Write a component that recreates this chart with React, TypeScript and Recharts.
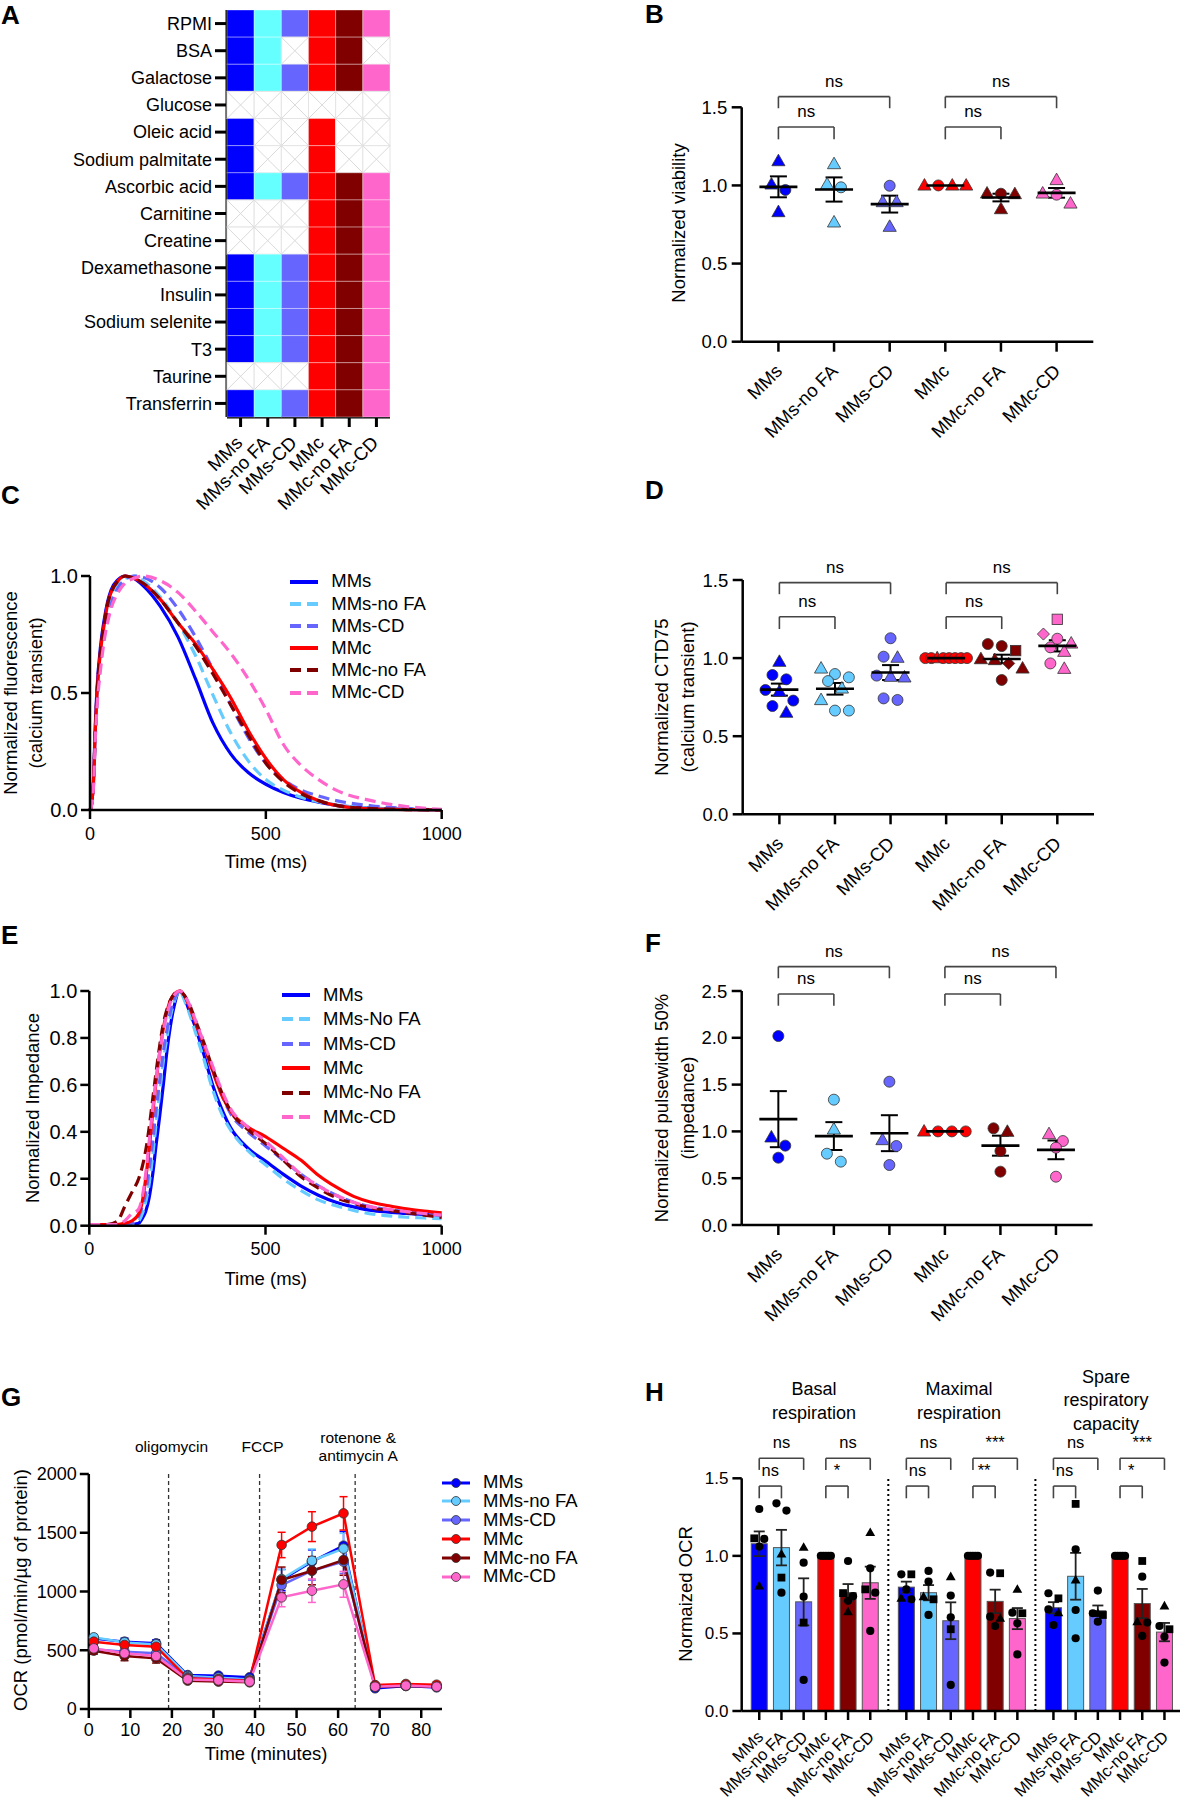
import React from 'react';
import {
  ScatterChart, Scatter, LineChart, Line, ComposedChart, Bar, Cell,
  XAxis, YAxis, ErrorBar, ReferenceLine, Legend,
} from 'recharts';

const FONT = '"Liberation Sans", Arial, Helvetica, sans-serif';
const AX = { stroke: '#000', strokeWidth: 2.5 };

const CONDITIONS = ['MMs', 'MMs-no FA', 'MMs-CD', 'MMc', 'MMc-no FA', 'MMc-CD'];
const COLORS = ['#0000ff', '#66ccff', '#6666ff', '#ff0000', '#800000', '#ff66cc'];
const HEAT_COLORS = ['#0000ff', '#66ffff', '#6666ff', '#ff0000', '#800000', '#ff66cc'];

// ---- A: medium composition (1 = included)
const COMPONENTS = ['RPMI', 'BSA', 'Galactose', 'Glucose', 'Oleic acid', 'Sodium palmitate', 'Ascorbic acid',
  'Carnitine', 'Creatine', 'Dexamethasone', 'Insulin', 'Sodium selenite', 'T3', 'Taurine', 'Transferrin'];
const MEDIA = [
  [1, 1, 1, 1, 1, 1],
  [1, 1, 0, 1, 1, 0],
  [1, 1, 1, 1, 1, 1],
  [0, 0, 0, 0, 0, 0],
  [1, 0, 0, 1, 0, 0],
  [1, 0, 0, 1, 0, 0],
  [1, 1, 1, 1, 1, 1],
  [0, 0, 0, 1, 1, 1],
  [0, 0, 0, 1, 1, 1],
  [1, 1, 1, 1, 1, 1],
  [1, 1, 1, 1, 1, 1],
  [1, 1, 1, 1, 1, 1],
  [1, 1, 1, 1, 1, 1],
  [0, 0, 0, 1, 1, 1],
  [1, 1, 1, 1, 1, 1],
];

// ---- B: viability (c circle, t triangle, s square, d diamond)
const VIABILITY = [
  [1.156, 1.007, 0.971, 0.83],
  [1.137, 1.007, 0.988, 0.764],
  [0.998, 0.894, 0.894, 0.736],
  [1, 1, 1, 1],
  [0.949, 0.945, 0.947, 0.849],
  [1.035, 0.949, 0.941, 0.885],
];
const VIABILITY_MARKS = [
  ['t', 't', 'c', 't'], ['t', 't', 'c', 't'], ['c', 't', 't', 't'],
  ['t', 'c', 't', 't'], ['t', 't', 'c', 't'], ['t', 't', 'c', 't'],
];

// ---- D: CTD75
const CTD75 = [
  [0.977, 0.892, 0.864, 0.796, 0.785, 0.728, 0.693, 0.651],
  [0.934, 0.898, 0.877, 0.853, 0.806, 0.732, 0.664, 0.664],
  [1.127, 1.009, 1.003, 0.888, 0.881, 0.877, 0.742, 0.732],
  [1, 1, 1, 1, 1, 1, 1, 1],
  [1.09, 1.077, 1.048, 0.994, 0.988, 0.966, 0.934, 0.86],
  [1.248, 1.154, 1.124, 1.094, 1.069, 1.041, 0.966, 0.932],
];
const CTD75_MARKS = [
  ['t', 'c', 'c', 'c', 't', 'c', 'c', 't'],
  ['t', 'c', 'c', 'c', 't', 't', 'c', 'c'],
  ['c', 'c', 't', 'c', 't', 't', 'c', 'c'],
  ['c', 'c', 't', 'c', 'c', 'c', 'c', 'c'],
  ['c', 'c', 's', 't', 't', 'd', 't', 'c'],
  ['s', 'd', 'c', 't', 'c', 't', 'c', 't'],
];

// ---- F: pulsewidth 50%
const PULSEWIDTH = [
  [2.019, 0.937, 0.848, 0.719],
  [1.339, 1.022, 0.762, 0.677],
  [1.531, 0.908, 0.844, 0.641],
  [1, 1, 1, 1],
  [0.997, 1.033, 0.79, 0.57],
  [0.972, 0.897, 0.826, 0.516],
];
const PULSEWIDTH_MARKS = [
  ['c', 't', 'c', 'c'], ['c', 't', 'c', 'c'], ['c', 't', 'c', 'c'],
  ['t', 'c', 'c', 'c'], ['t', 'c', 'c', 'c'], ['t', 'c', 'c', 'c'],
];
const COMPARISONS = [[0, 2], [0, 1], [3, 5], [3, 4]];

// ---- C: calcium transients
const CA_TIME = [0, 5, 10, 15, 20, 30, 40, 50, 60, 80, 100, 125, 150, 200, 250, 300, 350, 400, 450, 500, 550, 600, 650, 700, 800, 900, 1000];
const CA_MMS = [0, 0.03, 0.13, 0.36, 0.52, 0.7, 0.81, 0.89, 0.94, 0.985, 1, 0.99, 0.96, 0.87, 0.74, 0.56, 0.37, 0.24, 0.16, 0.11, 0.075, 0.05, 0.033, 0.02, 0.008, 0.003, 0];
const CA_MMS_NOFA = [0, 0.03, 0.11, 0.32, 0.47, 0.65, 0.76, 0.84, 0.9, 0.96, 0.99, 1, 0.98, 0.91, 0.8, 0.66, 0.49, 0.33, 0.21, 0.13, 0.085, 0.055, 0.035, 0.022, 0.008, 0.003, 0];
const CA_MMS_CD = [0, 0.03, 0.11, 0.31, 0.46, 0.63, 0.74, 0.82, 0.88, 0.95, 0.985, 1, 0.995, 0.95, 0.86, 0.74, 0.6, 0.45, 0.31, 0.2, 0.13, 0.085, 0.06, 0.04, 0.018, 0.007, 0];
const CA_MMC = [0, 0.03, 0.12, 0.34, 0.5, 0.68, 0.79, 0.88, 0.93, 0.98, 1, 0.99, 0.97, 0.9, 0.8, 0.71, 0.6, 0.48, 0.34, 0.22, 0.13, 0.075, 0.04, 0.02, 0.005, 0.002, 0];
const CA_MMC_NOFA = [0, 0.03, 0.12, 0.34, 0.5, 0.68, 0.79, 0.88, 0.93, 0.98, 1, 0.99, 0.97, 0.9, 0.8, 0.7, 0.58, 0.45, 0.32, 0.2, 0.12, 0.07, 0.04, 0.02, 0.006, 0.002, 0];
const CA_MMC_CD = [0, 0.02, 0.1, 0.3, 0.44, 0.6, 0.72, 0.8, 0.86, 0.93, 0.97, 0.99, 1, 0.98, 0.93, 0.85, 0.76, 0.67, 0.56, 0.43, 0.28, 0.19, 0.13, 0.085, 0.04, 0.015, 0.003];

// ---- E: impedance
const IMP_TIME = [0, 50, 80, 100, 120, 140, 150, 160, 170, 180, 190, 200, 210, 220, 230, 240, 257, 270, 285, 300, 325, 350, 375, 400, 450, 500, 550, 600, 650, 700, 750, 800, 850, 900, 950, 1000];
const IMP_MMS = [0.005, 0.005, 0.005, 0.005, 0.005, 0.01, 0.03, 0.06, 0.12, 0.22, 0.35, 0.47, 0.6, 0.74, 0.85, 0.93, 1, 0.97, 0.91, 0.85, 0.73, 0.6, 0.5, 0.42, 0.33, 0.275, 0.22, 0.17, 0.13, 0.1, 0.08, 0.065, 0.058, 0.052, 0.048, 0.045];
const IMP_MMS_NOFA = [0.005, 0.005, 0.005, 0.005, 0.008, 0.02, 0.05, 0.1, 0.18, 0.3, 0.44, 0.57, 0.7, 0.8, 0.89, 0.95, 1, 0.96, 0.9, 0.83, 0.71, 0.58, 0.48, 0.41, 0.32, 0.26, 0.2, 0.15, 0.11, 0.085, 0.065, 0.05, 0.042, 0.036, 0.033, 0.03];
const IMP_MMS_CD = [0.005, 0.005, 0.005, 0.005, 0.01, 0.04, 0.08, 0.14, 0.24, 0.36, 0.5, 0.62, 0.74, 0.83, 0.91, 0.96, 1, 0.98, 0.93, 0.87, 0.77, 0.66, 0.56, 0.48, 0.4, 0.34, 0.28, 0.22, 0.17, 0.13, 0.1, 0.08, 0.068, 0.06, 0.053, 0.047];
const IMP_MMC = [0.005, 0.005, 0.005, 0.01, 0.02, 0.05, 0.1, 0.2, 0.33, 0.48, 0.62, 0.74, 0.84, 0.91, 0.96, 0.985, 1, 0.98, 0.93, 0.87, 0.77, 0.66, 0.56, 0.49, 0.42, 0.38, 0.33, 0.28, 0.215, 0.165, 0.125, 0.1, 0.085, 0.072, 0.062, 0.055];
const IMP_MMC_NOFA = [0.005, 0.005, 0.02, 0.08, 0.14, 0.2, 0.25, 0.32, 0.42, 0.54, 0.66, 0.77, 0.86, 0.92, 0.96, 0.985, 1, 0.98, 0.94, 0.88, 0.78, 0.67, 0.57, 0.49, 0.41, 0.35, 0.28, 0.21, 0.16, 0.12, 0.095, 0.075, 0.065, 0.055, 0.045, 0.035];
const IMP_MMC_CD = [0.005, 0.005, 0.005, 0.02, 0.05, 0.07, 0.12, 0.22, 0.36, 0.5, 0.63, 0.74, 0.83, 0.9, 0.95, 0.98, 1, 0.98, 0.94, 0.88, 0.78, 0.68, 0.58, 0.5, 0.42, 0.36, 0.29, 0.22, 0.17, 0.13, 0.1, 0.08, 0.07, 0.06, 0.052, 0.045];

// ---- G: Seahorse OCR
const OCR_TIME = [1.2, 8.6, 16.2, 23.8, 31.2, 38.7, 46.4, 53.7, 61.3, 68.9, 76.3, 83.7];
const OCR_MMS = [601, 573, 559, 289, 284, 270, 1098, 1254, 1390, 176, 196, 184];
const OCR_MMS_NOFA = [610, 567, 550, 281, 267, 252, 1106, 1262, 1365, 199, 204, 196];
const OCR_MMS_CD = [508, 488, 474, 270, 255, 244, 1055, 1177, 1254, 196, 204, 196];
const OCR_MMC = [573, 545, 530, 261, 252, 241, 1396, 1552, 1665, 204, 213, 207];
const OCR_MMC_NOFA = [496, 451, 431, 241, 233, 227, 1098, 1177, 1268, 190, 196, 190];
const OCR_MMC_CD = [516, 474, 451, 252, 244, 233, 950, 1007, 1061, 190, 199, 190];
const OCR_SEM_MMS = [25, 30, 30, 20, 15, 15, 90, 100, 120, 15, 10, 10];
const OCR_SEM_MMS_NOFA = [25, 30, 30, 20, 15, 15, 80, 100, 130, 15, 10, 10];
const OCR_SEM_MMS_CD = [25, 30, 30, 15, 15, 15, 60, 80, 100, 15, 10, 10];
const OCR_SEM_MMC = [30, 30, 30, 15, 15, 15, 108, 127, 142, 15, 10, 10];
const OCR_SEM_MMC_NOFA = [30, 40, 40, 15, 15, 15, 110, 120, 130, 15, 10, 10];
const OCR_SEM_MMC_CD = [30, 30, 30, 15, 15, 15, 80, 100, 110, 15, 10, 10];
const INJECTION_TIMES = [19.2, 41.1, 64.1];
const INJECTION_NAMES = [['oligomycin'], ['FCCP'], ['rotenone &', 'antimycin A']];

// ---- H: normalized OCR
const BASAL = [
  [1.302, 1.113, 1.109, 1.06, 0.806],
  [1.339, 1.292, 1.012, 0.86, 0.763],
  [1.055, 0.956, 0.737, 0.57, 0.2],
  [1, 1, 1, 1, 1],
  [0.967, 0.76, 0.74, 0.71, 0.64],
  [1.15, 0.92, 0.784, 0.763, 0.516],
];
const MAXIMAL = [
  [0.881, 0.881, 0.784, 0.726, 0.72],
  [0.903, 0.834, 0.737, 0.72, 0.619],
  [0.866, 0.744, 0.604, 0.527, 0.168],
  [1, 1, 1, 1, 1],
  [0.892, 0.888, 0.608, 0.597, 0.548],
  [0.784, 0.634, 0.63, 0.565, 0.365],
];
const SPARE = [
  [0.759, 0.726, 0.655, 0.634, 0.554],
  [1.335, 1.042, 0.845, 0.651, 0.469],
  [0.776, 0.63, 0.63, 0.619, 0.576],
  [1, 1, 1, 1, 1],
  [0.967, 0.866, 0.576, 0.57, 0.484],
  [0.677, 0.548, 0.527, 0.479, 0.312],
];
const BASAL_MARKS = [['c', 's', 'c', 'c', 't'], ['c', 'c', 't', 's', 'c'], ['t', 'c', 'c', 's', 'c'], ['c', 'c', 'c', 'c', 'c'], ['c', 's', 'c', 'c', 't'], ['t', 'c', 's', 'c', 'c']];
const MAXIMAL_MARKS = [['c', 's', 'c', 't', 'c'], ['c', 'c', 't', 's', 'c'], ['t', 'c', 'c', 's', 'c'], ['c', 'c', 'c', 'c', 'c'], ['c', 's', 'c', 't', 'c'], ['t', 'c', 's', 'c', 'c']];
const SPARE_MARKS = [['c', 's', 'c', 't', 'c'], ['s', 'c', 't', 'c', 'c'], ['c', 'c', 't', 's', 'c'], ['c', 'c', 'c', 'c', 'c'], ['s', 'c', 't', 'c', 'c'], ['t', 'c', 's', 'c', 'c']];
const OCR_SIG_OUTER = [['ns', 'ns'], ['ns', '***'], ['ns', '***']];
const OCR_SIG_INNER = [['ns', '*'], ['ns', '**'], ['ns', '*']];

// ---------- helpers
const mean = (a: number[]) => a.reduce((s, v) => s + v, 0) / a.length;
const sem = (a: number[]) => {
  const m = mean(a);
  return Math.sqrt(a.reduce((s, v) => s + (v - m) ** 2, 0) / (a.length - 1)) / Math.sqrt(a.length);
};

// put points with close values side by side (scatter dot plot)
function spread(values: number[], minGap: number, step: number, maxSpan: number) {
  const order = values.map((_, i) => i).sort((a, b) => values[b] - values[a]);
  const bins: number[][] = [];
  order.forEach((i) => {
    const last = bins[bins.length - 1];
    if (last && values[last[0]] - values[i] < minGap) last.push(i);
    else bins.push([i]);
  });
  const offs = new Array(values.length).fill(0);
  bins.forEach((bin) => {
    const n = bin.length;
    if (n < 2) return;
    const s = Math.min(step, maxSpan / (n - 1));
    bin.forEach((idx, k) => { offs[idx] = (k - (n - 1) / 2) * s; });
  });
  return offs;
}

function Marker({ cx, cy, kind, r, fill, stroke, sw }: any) {
  if (cx == null || cy == null) return null;
  const c = { fill, stroke, strokeWidth: sw };
  if (kind === 't') return <polygon points={`${cx},${cy - r * 1.25} ${cx - r * 1.2},${cy + r * 0.85} ${cx + r * 1.2},${cy + r * 0.85}`} {...c} />;
  if (kind === 's') return <rect x={cx - r * 0.95} y={cy - r * 0.95} width={r * 1.9} height={r * 1.9} {...c} />;
  if (kind === 'd') return <polygon points={`${cx},${cy - r * 1.1} ${cx + r * 1.1},${cy} ${cx},${cy + r * 1.1} ${cx - r * 1.1},${cy}`} {...c} />;
  return <circle cx={cx} cy={cy} r={r} {...c} />;
}

const AngledTick = (props: any) => {
  const { x, y, index, labels, fs, ddx, ddy } = props;
  const ax = x + ddx;
  const ay = y + ddy;
  return (
    <text x={ax} y={ay} transform={`rotate(-45 ${ax} ${ay})`} textAnchor="end" fontSize={fs} fontFamily={FONT} fill="#000">
      {labels[index]}
    </text>
  );
};

function bracket(key: string, x1: number, x2: number, y: number, leg: number, text: string, fs: number) {
  const line = { stroke: '#444', strokeWidth: 1.6, ifOverflow: 'visible' as const };
  return [
    <ReferenceLine key={key + 'h'} segment={[{ x: x1, y }, { x: x2, y }]} {...line}
      label={{ value: text, position: 'top', offset: 10, fontSize: fs, fill: '#000', fontFamily: FONT }} />,
    <ReferenceLine key={key + 'a'} segment={[{ x: x1, y }, { x: x1, y: leg }]} {...line} />,
    <ReferenceLine key={key + 'b'} segment={[{ x: x2, y }, { x: x2, y: leg }]} {...line} />,
  ];
}

function Title({ x, y, text, size = 18.5, rotate = false, lh = 24, weight = 400 }: any) {
  return (
    <div style={{
      position: 'absolute', left: x, top: y, whiteSpace: 'pre', textAlign: 'center', fontSize: size, lineHeight: `${lh}px`,
      fontWeight: weight, fontFamily: FONT, color: '#000',
      transform: `translate(-50%, -50%)${rotate ? ' rotate(-90deg)' : ''}`,
    }}>{text}</div>
  );
}

function Letter({ x, y, text }: any) {
  return (
    <div style={{ position: 'absolute', left: x, top: Math.max(0, y - 3.4), fontSize: 26, lineHeight: '27px', fontWeight: 700, fontFamily: FONT }}>
      {text}
    </div>
  );
}

// legend rows in the series' own order
function SeriesLegend({ series, rowH, fs, lineW, gap, dot }: any) {
  return (
    <div style={{ fontFamily: FONT, color: '#000' }}>
      {series.map((s: any) => (
        <div key={s.name} style={{ display: 'flex', alignItems: 'center', height: rowH, whiteSpace: 'nowrap' }}>
          <svg width={lineW} height={12} style={{ flex: 'none' }}>
            <line x1={0} x2={lineW} y1={6} y2={6} stroke={s.color} strokeWidth={dot ? 3 : 4} strokeDasharray={s.dash} />
            {dot && <circle cx={lineW / 2} cy={6} r={4.5} fill={s.color} stroke="#333" strokeWidth={0.8} />}
          </svg>
          <span style={{ marginLeft: gap, fontSize: fs, lineHeight: 1 }}>{s.name}</span>
        </div>
      ))}
    </div>
  );
}

// ---------- A
const A_CELL_W = 163 / 6;
const A_CELL_H = 407 / 15;
const HeatCell = (props: any) => {
  const { cx, cy, payload } = props;
  if (cx == null || !payload) return null;
  const x = cx - A_CELL_W / 2;
  const y = cy - A_CELL_H / 2;
  if (payload.on) {
    return <rect x={x} y={y} width={A_CELL_W} height={A_CELL_H} fill={HEAT_COLORS[payload.col]} stroke="rgba(255,255,255,0.35)" strokeWidth={1} />;
  }
  return (
    <g>
      <rect x={x} y={y} width={A_CELL_W} height={A_CELL_H} fill="#fff" stroke="#e4e4e4" strokeWidth={1} />
      <line x1={x} y1={y} x2={x + A_CELL_W} y2={y + A_CELL_H} stroke="#dadada" strokeWidth={1} />
      <line x1={x + A_CELL_W} y1={y} x2={x} y2={y + A_CELL_H} stroke="#dadada" strokeWidth={1} />
    </g>
  );
};

function PanelA() {
  const cells = COMPONENTS.flatMap((_, row) => CONDITIONS.map((__, col) => ({ col, row, on: MEDIA[row][col] === 1 })));
  const border = { stroke: '#000', strokeWidth: 3 };
  return (
    <div style={{ position: 'absolute', left: 0, top: 0 }}>
      <ScatterChart width={400} height={540} margin={{ top: 10, right: 10, bottom: 0, left: 0 }}>
        <Scatter data={cells} isAnimationActive={false} shape={(p: any) => <HeatCell {...p} />} />
        <XAxis type="number" dataKey="col" domain={[-0.5, 5.5]} ticks={[0, 1, 2, 3, 4, 5]} interval={0} height={123}
          tickSize={10} tickLine={border} axisLine={border}
          tick={<AngledTick labels={CONDITIONS} fs={18.5} ddx={3} ddy={15} />} />
        <YAxis type="number" dataKey="row" reversed domain={[-0.5, 14.5]} ticks={COMPONENTS.map((_, i) => i)} interval={0}
          width={227} tickSize={12} tickMargin={3} tickLine={border} axisLine={border}
          tickFormatter={(v: number) => COMPONENTS[v]} tick={{ fontSize: 18, fill: '#000', fontFamily: FONT }} />
        <XAxis xAxisId="top" orientation="top" type="number" domain={[-0.5, 5.5]} height={0} tick={false} tickLine={false} axisLine={border} />
        <YAxis yAxisId="right" orientation="right" type="number" domain={[-0.5, 14.5]} width={0} tick={false} tickLine={false} axisLine={border} />
      </ScatterChart>
    </div>
  );
}

// ---------- B, D, F
function DotPlot({ left, top, width, height, mt, mr, yw, xh, values, marks, yMax, yTicks, minGap, br }: any) {
  const pts = values.flatMap((vals: number[], g: number) => {
    const offs = spread(vals, minGap, 0.25, 0.75);
    return vals.map((v, i) => ({ x: g + offs[i], y: v, g, m: marks[g][i] }));
  });
  const stats = values.map((vals: number[], g: number) => ({ x: g, y: mean(vals), sem: sem(vals) }));
  return (
    <div style={{ position: 'absolute', left, top }}>
      <ScatterChart width={width} height={height} margin={{ top: mt, right: mr, bottom: 0, left: 0 }}>
        <XAxis type="number" dataKey="x" domain={[-0.66, 5.66]} ticks={[0, 1, 2, 3, 4, 5]} interval={0} height={xh}
          tickSize={10} tickLine={AX} axisLine={AX}
          tick={<AngledTick labels={CONDITIONS} fs={18.5} ddx={5} ddy={18.5} />} />
        <YAxis type="number" dataKey="y" domain={[0, yMax]} ticks={yTicks} interval={0} width={yw}
          tickSize={10} tickMargin={4.5} tickLine={AX} axisLine={AX}
          tickFormatter={(v: number) => v.toFixed(1)} tick={{ fontSize: 18.5, fill: '#000', fontFamily: FONT }} />
        <Scatter data={pts} isAnimationActive={false}
          shape={(p: any) => <Marker cx={p.cx} cy={p.cy} kind={p.payload?.m} r={5.5} fill={COLORS[p.payload?.g ?? 0]} stroke="#333" sw={0.8} />} />
        <Scatter data={stats} isAnimationActive={false}
          shape={(p: any) => <line x1={p.cx - 19} x2={p.cx + 19} y1={p.cy} y2={p.cy} stroke="#000" strokeWidth={2.6} />}>
          <ErrorBar dataKey="sem" direction="y" width={8.5} stroke="#000" strokeWidth={2} />
        </Scatter>
        {COMPARISONS.map(([a, b], i) => {
          const outer = b - a === 2;
          return bracket(`br${i}`, a, b, outer ? br[0] : br[2], outer ? br[1] : br[3], 'ns', 17);
        })}
      </ScatterChart>
    </div>
  );
}

// ---------- C, E
const CA_SERIES = [
  { name: 'MMs', values: CA_MMS, color: COLORS[0] },
  { name: 'MMs-no FA', values: CA_MMS_NOFA, color: COLORS[1], dash: '11 6' },
  { name: 'MMs-CD', values: CA_MMS_CD, color: COLORS[2], dash: '11 6' },
  { name: 'MMc', values: CA_MMC, color: COLORS[3] },
  { name: 'MMc-no FA', values: CA_MMC_NOFA, color: COLORS[4], dash: '11 6' },
  { name: 'MMc-CD', values: CA_MMC_CD, color: COLORS[5], dash: '11 6' },
];
const IMP_SERIES = [
  { name: 'MMs', values: IMP_MMS, color: COLORS[0] },
  { name: 'MMs-No FA', values: IMP_MMS_NOFA, color: COLORS[1], dash: '11 6' },
  { name: 'MMs-CD', values: IMP_MMS_CD, color: COLORS[2], dash: '11 6' },
  { name: 'MMc', values: IMP_MMC, color: COLORS[3] },
  { name: 'MMc-No FA', values: IMP_MMC_NOFA, color: COLORS[4], dash: '11 6' },
  { name: 'MMc-CD', values: IMP_MMC_CD, color: COLORS[5], dash: '11 6' },
];

function CurvePanel({ top, time, series, yTicks, yw, mt, xh, height, legendPos, rowH }: any) {
  const rows = time.map((t: number, i: number) => {
    const r: any = { t };
    series.forEach((s: any) => { r[s.name] = s.values[i]; });
    return r;
  });
  return (
    <div style={{ position: 'absolute', left: 0, top }}>
      <LineChart width={470} height={height} data={rows} margin={{ top: mt, right: 28.3, bottom: 0, left: 0 }}>
        <XAxis type="number" dataKey="t" domain={[0, 1000]} ticks={[0, 500, 1000]} interval={0} height={xh}
          tickSize={9} tickMargin={8} tickLine={AX} axisLine={AX} tick={{ fontSize: 18, fill: '#000', fontFamily: FONT }} />
        <YAxis type="number" domain={[0, 1]} ticks={yTicks} interval={0} width={yw} tickSize={9} tickMargin={3}
          tickLine={AX} axisLine={AX} tickFormatter={(v: number) => v.toFixed(1)} tick={{ fontSize: 20, fill: '#000', fontFamily: FONT }} />
        {series.map((s: any) => (
          <Line key={s.name} type="monotone" dataKey={s.name} name={s.name} stroke={s.color} strokeWidth={3.2}
            strokeDasharray={s.dash} dot={false} isAnimationActive={false} />
        ))}
        <Legend layout="vertical" align="center" verticalAlign="middle"
          wrapperStyle={{ left: legendPos[0], top: legendPos[1], width: 'auto' }}
          content={() => <SeriesLegend series={series} rowH={rowH} fs={18.5} lineW={28.3} gap={13} />} />
      </LineChart>
    </div>
  );
}

// ---------- G
const OCR_SERIES = [
  { name: 'MMs', values: OCR_MMS, err: OCR_SEM_MMS, color: COLORS[0] },
  { name: 'MMs-no FA', values: OCR_MMS_NOFA, err: OCR_SEM_MMS_NOFA, color: COLORS[1] },
  { name: 'MMs-CD', values: OCR_MMS_CD, err: OCR_SEM_MMS_CD, color: COLORS[2] },
  { name: 'MMc', values: OCR_MMC, err: OCR_SEM_MMC, color: COLORS[3] },
  { name: 'MMc-no FA', values: OCR_MMC_NOFA, err: OCR_SEM_MMC_NOFA, color: COLORS[4] },
  { name: 'MMc-CD', values: OCR_MMC_CD, err: OCR_SEM_MMC_CD, color: COLORS[5] },
];

const InjectionLabel = ({ viewBox, lines }: any) => {
  if (!viewBox) return null;
  const x = viewBox.x + 3;
  const y0 = viewBox.y - 22.3 - (lines.length - 1) * 8.7;
  return (
    <text x={x} y={y0} textAnchor="middle" fontSize={15.5} fontFamily={FONT} fill="#000">
      {lines.map((l: string, i: number) => <tspan key={i} x={x} dy={i === 0 ? 0 : 18}>{l}</tspan>)}
    </text>
  );
};

function PanelG() {
  const rows = OCR_TIME.map((t, i) => {
    const r: any = { t };
    OCR_SERIES.forEach((s) => { r[s.name] = s.values[i]; r[s.name + '_e'] = s.err[i]; });
    return r;
  });
  return (
    <div style={{ position: 'absolute', left: 0, top: 1380 }}>
      <LineChart width={600} height={389} data={rows} margin={{ top: 94, right: 158, bottom: 0, left: 0 }}>
        <XAxis type="number" dataKey="t" domain={[0, 85]} ticks={[0, 10, 20, 30, 40, 50, 60, 70, 80]} interval={0} height={60}
          tickSize={9} tickMargin={5} tickLine={AX} axisLine={AX} tick={{ fontSize: 18, fill: '#000', fontFamily: FONT }} />
        <YAxis type="number" domain={[0, 2000]} ticks={[0, 500, 1000, 1500, 2000]} interval={0} width={88.8} tickSize={9}
          tickMargin={3} tickLine={AX} axisLine={AX} tick={{ fontSize: 18, fill: '#000', fontFamily: FONT }} />
        {INJECTION_TIMES.map((t, i) => (
          <ReferenceLine key={t} x={t} stroke="#333" strokeWidth={1.3} strokeDasharray="4 3"
            label={(p: any) => <InjectionLabel viewBox={p.viewBox} lines={INJECTION_NAMES[i]} />} />
        ))}
        {OCR_SERIES.map((s) => (
          <Line key={s.name} type="linear" dataKey={s.name} name={s.name} stroke={s.color} strokeWidth={2.5}
            dot={{ r: 4.8, fill: s.color, stroke: '#333', strokeWidth: 0.8 }} isAnimationActive={false}>
            <ErrorBar dataKey={s.name + '_e'} direction="y" width={4} stroke={s.color} strokeWidth={1.5} />
          </Line>
        ))}
        <Legend layout="vertical" align="center" verticalAlign="middle"
          wrapperStyle={{ left: 442, top: 93.3, width: 'auto' }}
          content={() => <SeriesLegend series={OCR_SERIES} rowH={18.8} fs={18.5} lineW={28} gap={13} dot />} />
      </LineChart>
    </div>
  );
}

// ---------- H
const H_STRIDE = 6.625;
const H_BAR_W = 16;
const OcrBar = (p: any) => {
  if (p.x == null || p.height == null) return null;
  const cx = p.x + p.width / 2;
  const h = Math.abs(p.height);
  const y = p.height >= 0 ? p.y : p.y + p.height;
  return <rect x={cx - H_BAR_W / 2} y={y} width={H_BAR_W} height={h} fill={COLORS[p.payload?.ci ?? 0]} stroke="#555" strokeWidth={1} />;
};

function PanelH() {
  const sets = [BASAL, MAXIMAL, SPARE];
  const markSets = [BASAL_MARKS, MAXIMAL_MARKS, SPARE_MARKS];
  const bars = sets.flatMap((set, gi) => set.map((vals, ci) => ({ x: gi * H_STRIDE + ci, mean: mean(vals), sem: sem(vals), ci })));
  const pts = sets.flatMap((set, gi) => set.flatMap((vals, ci) => {
    const offs = spread(vals, 0.05, 0.51, 0.45);
    return vals.map((v, i) => ({ x: gi * H_STRIDE + ci + offs[i], y: v, m: markSets[gi][ci][i] }));
  }));
  return (
    <div style={{ position: 'absolute', left: 643, top: 1350 }}>
      <ComposedChart width={539} height={450} data={bars} margin={{ top: 128.3, right: 2, bottom: 0, left: 0 }}>
        <XAxis type="number" dataKey="x" domain={[-0.79, 18.95]} ticks={bars.map((b) => b.x)} interval={0} height={89}
          tickSize={9} tickLine={AX} axisLine={AX}
          tick={<AngledTick labels={bars.map((b) => CONDITIONS[b.ci])} fs={16.5} ddx={5} ddy={16} />} />
        <YAxis type="number" domain={[0, 1.5]} ticks={[0, 0.5, 1, 1.5]} interval={0} width={98.7} tickSize={9.3}
          tickMargin={4} tickLine={AX} axisLine={AX} tickFormatter={(v: number) => v.toFixed(1)}
          tick={{ fontSize: 17, fill: '#000', fontFamily: FONT }} />
        <Bar dataKey="mean" isAnimationActive={false} shape={(p: any) => <OcrBar {...p} />}>
          {bars.map((b, i) => <Cell key={i} fill={COLORS[b.ci]} />)}
          <ErrorBar dataKey="sem" direction="y" width={5.5} stroke="#222" strokeWidth={1.8} />
        </Bar>
        <Scatter data={pts} dataKey="y" isAnimationActive={false}
          shape={(p: any) => <Marker cx={p.cx} cy={p.cy} kind={p.payload?.m} r={4.1} fill="#000" stroke="none" sw={0} />} />
        {[0, 1].map((k) => (
          <ReferenceLine key={'sep' + k} x={k * H_STRIDE + 5 + (H_STRIDE - 5) / 2} stroke="#000" strokeWidth={2} strokeDasharray="2 3" />
        ))}
        {sets.map((_, gi) => {
          const b = gi * H_STRIDE;
          return [
            bracket(`o${gi}a`, b, b + 2, 1.629, 1.554, OCR_SIG_OUTER[gi][0], 16.5),
            bracket(`i${gi}a`, b, b + 1, 1.45, 1.371, OCR_SIG_INNER[gi][0], 16.5),
            bracket(`o${gi}b`, b + 3, b + 5, 1.629, 1.554, OCR_SIG_OUTER[gi][1], 16.5),
            bracket(`i${gi}b`, b + 3, b + 4, 1.45, 1.371, OCR_SIG_INNER[gi][1], 16.5),
          ];
        })}
      </ComposedChart>
    </div>
  );
}

export default function App() {
  return (
    <div style={{ position: 'absolute', left: 0, top: 0, width: 1182, height: 1800, background: '#fff', fontFamily: FONT, overflow: 'hidden' }}>
      <PanelA />
      <DotPlot left={643} top={0} width={539} height={452} mt={107.3} mr={88.7} yw={98.7} xh={110.3}
        values={VIABILITY} marks={VIABILITY_MARKS} yMax={1.5} yTicks={[0, 0.5, 1, 1.5]} minGap={0.07}
        br={[1.568, 1.494, 1.374, 1.295]} />
      <DotPlot left={643} top={470} width={539} height={452} mt={110} mr={88} yw={99.7} xh={107.7}
        values={CTD75} marks={CTD75_MARKS} yMax={1.5} yTicks={[0, 0.5, 1, 1.5]} minGap={0.07}
        br={[1.483, 1.409, 1.265, 1.186]} />
      <DotPlot left={643} top={900} width={539} height={440} mt={91} mr={89.4} yw={98.7} xh={115}
        values={PULSEWIDTH} marks={PULSEWIDTH_MARKS} yMax={2.5} yTicks={[0, 0.5, 1, 1.5, 2, 2.5]} minGap={0.12}
        br={[2.76, 2.636, 2.468, 2.343]} />
      <CurvePanel top={480} time={CA_TIME} series={CA_SERIES} yTicks={[0, 0.5, 1]} yw={90} mt={96} xh={50} height={380}
        legendPos={[290, 90.6]} rowH={22.2} />
      <CurvePanel top={915} time={IMP_TIME} series={IMP_SERIES} yTicks={[0, 0.2, 0.4, 0.6, 0.8, 1]} yw={89.3} mt={76} xh={59.3}
        height={370} legendPos={[281.7, 67.8]} rowH={24.4} />
      <PanelG />
      <PanelH />

      <Letter x={1} y={5} text="A" />
      <Letter x={645} y={4} text="B" />
      <Letter x={1} y={485} text="C" />
      <Letter x={645} y={480.5} text="D" />
      <Letter x={1} y={925} text="E" />
      <Letter x={645} y={933} text="F" />
      <Letter x={1} y={1387} text="G" />
      <Letter x={645} y={1382} text="H" />

      <Title x={679} y={223} rotate text="Normalized viability" />
      <Title x={675} y={697} rotate lh={26} text={'Normalized CTD75\n(calcium transient)'} />
      <Title x={675} y={1107.5} rotate lh={26} text={'Normalized pulsewidth 50%\n(impedance)'} />
      <Title x={686} y={1594} rotate text="Normaized OCR" />
      <Title x={22.5} y={693} rotate lh={25} text={'Normalized fluorescence\n(calcium transient)'} />
      <Title x={266} y={861.5} text="Time (ms)" />
      <Title x={33.3} y={1108} rotate text="Normalized Impedance" />
      <Title x={265.7} y={1278.5} text="Time (ms)" />
      <Title x={21} y={1590} rotate text="OCR (pmol/min/µg of protein)" />
      <Title x={266} y={1754} text="Time (minutes)" />
      <Title x={814} y={1401} size={18} text={'Basal\nrespiration'} />
      <Title x={959} y={1401} size={18} text={'Maximal\nrespiration'} />
      <Title x={1106} y={1400.5} size={18} lh={23.5} text={'Spare\nrespiratory\ncapacity'} />
    </div>
  );
}
